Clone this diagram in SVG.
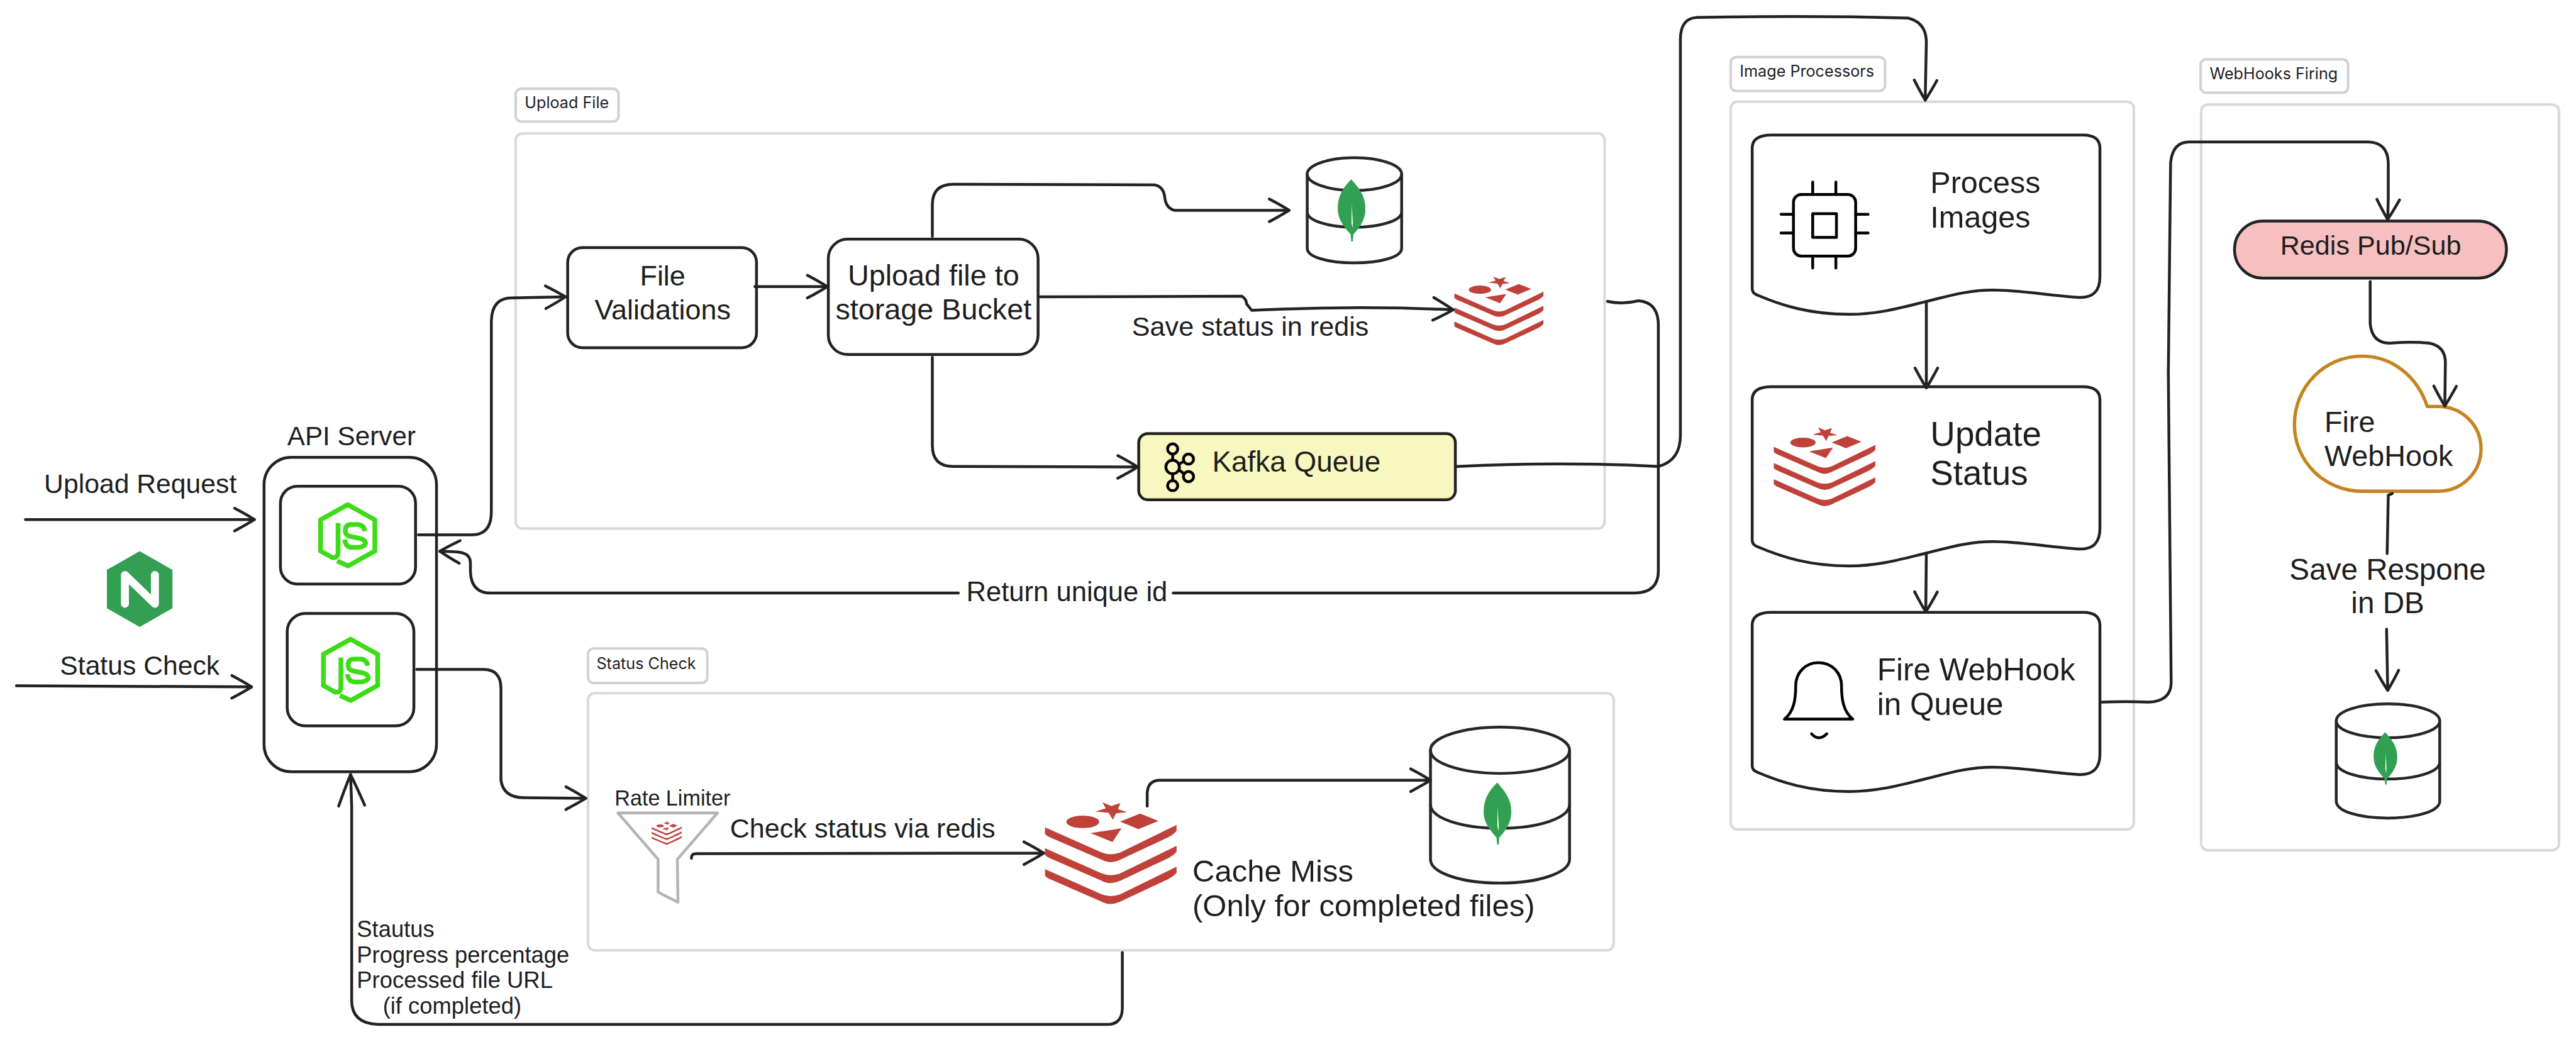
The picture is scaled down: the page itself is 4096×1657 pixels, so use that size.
<svg xmlns="http://www.w3.org/2000/svg" xmlns:xlink="http://www.w3.org/1999/xlink" width="4096" height="1657" viewBox="0 0 4096 1657">
<style>
text{font-family:"Liberation Sans",Arial,sans-serif;fill:#1e1e1e}
.lbl{font-family:Inter,"Liberation Sans",sans-serif;font-size:28px}
.grp{fill:#fff;stroke:#d8d8de;stroke-width:4.5}
.tag{fill:#fff;stroke:#d2d2d2;stroke-width:4.5}
.box{fill:#fff;stroke:#222;stroke-width:5}
.ln{fill:none;stroke:#222;stroke-width:5;stroke-linecap:round;stroke-linejoin:round}
.db{fill:#fff;stroke:#262626;stroke-width:5;stroke-linejoin:round}
.ic{fill:none;stroke:#000;stroke-width:5;stroke-linecap:round;stroke-linejoin:round}
.a{marker-end:url(#arr)}
.a2{marker-end:url(#arrBig)}
</style>
<defs>
<marker id="arr" markerUnits="userSpaceOnUse" viewBox="-60 -40 80 80" markerWidth="80" markerHeight="80" refX="0" refY="0" orient="auto" overflow="visible"><path d="M-35 -20Q-14 -9 0 0Q-14 9 -35 20" fill="none" stroke="#222" stroke-width="5" stroke-linecap="round" stroke-linejoin="round"/></marker>
<marker id="arrBig" markerUnits="userSpaceOnUse" viewBox="-70 -40 100 80" markerWidth="100" markerHeight="80" refX="0" refY="0" orient="auto" overflow="visible"><path d="M-55 -23Q-22 -10 0 0Q-22 10 -55 23" fill="none" stroke="#222" stroke-width="5" stroke-linecap="round" stroke-linejoin="round"/></marker>
<symbol id="redis" viewBox="145 507 698 543" preserveAspectRatio="none">
<g fill="#bf413a"><path d="M450 507L497 527L546 511L532 543L581 560L522 566L505 600L483 563L412 556L468 540Z"/><ellipse cx="346" cy="611" rx="87" ry="33"/><path d="M650 567L747 606L641 650L543 610Z"/><path d="M387 671L552 645L503 718Z"/>
<path d="M145 640L445 773Q495 793 545 773L843 627V660Q825 680 800 692L545 812Q495 838 445 812L170 692Q145 680 145 672Z"/><path d="M145 751L445 884Q495 904 545 884L843 738V771Q825 791 800 803L545 923Q495 949 445 923L170 803Q145 791 145 783Z"/><path d="M145 862L445 995Q495 1015 545 995L843 849V882Q825 902 800 914L545 1034Q495 1060 445 1034L170 914Q145 902 145 894Z"/></g>
</symbol>
<symbol id="leaf" viewBox="433 402 147 331" preserveAspectRatio="none">
<path d="M505 402C470 440 433 480 433 560C433 620 475 665 501 695L505 733H513L516 695C545 665 580 620 580 560C580 480 535 440 505 402Z" fill="#31a052"/><path d="M507 532L513 632L512 662L506 636Z" fill="#fff"/>
</symbol>
<symbol id="node" viewBox="305 138 322 362" preserveAspectRatio="none">
<g fill="none" stroke="#3cdc16" stroke-width="25"><path d="M410 456L468 482L609 403V238L466 158L323 238V403L385 438Q415 442 415 410V255"/><path d="M556 298Q550 263 515 263H482Q453 266 453 295Q453 320 480 326L530 336Q560 345 560 362Q555 382 520 384H485Q455 382 450 343"/></g>
</symbol>
<path id="card" d="M3133 239H3684Q3714 239 3714 262V490Q3714 528 3676 526C3620 522 3570 513 3525 513C3480 513 3445 524 3408 533C3360 545 3320 556 3270 556C3200 556 3150 540 3106 521Q3099 518 3099 510V262Q3099 239 3133 239Z"/>
</defs>
<rect width="4096" height="1657" fill="#fff"/>
<g transform="scale(0.89903)">
<g id="group-upload-file"><rect class="tag" x="912" y="157" width="182" height="58" rx="10"/><text class="lbl" x="928" y="191">Upload File</text><rect class="grp" x="912" y="236" width="1926" height="699" rx="12"/></g>
<g id="group-status-check"><rect class="tag" x="1040" y="1147" width="211" height="61" rx="10"/><text class="lbl" x="1055" y="1184">Status Check</text><rect class="grp" x="1040" y="1226" width="1814" height="455" rx="12"/></g>
<g id="group-image-processors"><rect class="tag" x="3061" y="101" width="273" height="60" rx="10"/><text class="lbl" x="3077" y="136">Image Processors</text><rect class="grp" x="3061" y="180" width="713" height="1287" rx="12"/></g>
<g id="group-webhooks-firing"><rect class="tag" x="3892" y="105" width="261" height="59" rx="10"/><text class="lbl" x="3908" y="140">WebHooks Firing</text><rect class="grp" x="3893" y="185" width="633" height="1319" rx="12"/></g>

<g id="nginx"><path d="M247 975L305 1008V1076L247 1109L189 1076V1008Z" fill="#339f53"/><path d="M221 1068V1017L274 1068V1017" fill="none" stroke="#fff" stroke-width="14" stroke-linecap="round" stroke-linejoin="round"/></g>
<g id="api-server"><rect class="box" x="467" y="809" width="305" height="556" rx="48"/><rect class="box" x="496" y="860" width="239" height="173" rx="30"/><use href="#node" x="561" y="886" width="108" height="121"/><rect class="box" x="508" y="1085" width="224" height="199" rx="32"/><use href="#node" x="566" y="1124" width="108" height="121"/><text x="508" y="788" font-size="47">API Server</text></g>
<text id="label-upload-request" x="78" y="872" font-size="47.5">Upload Request</text>
<text id="label-status-check" x="106" y="1193" font-size="47.5">Status Check</text>

<g id="file-validations"><rect class="box" x="1004" y="438" width="334" height="177" rx="26"/><text x="1172" y="505" font-size="50" text-anchor="middle">File</text><text x="1172" y="565" font-size="50" text-anchor="middle">Validations</text></g>
<g id="upload-to-bucket"><rect class="box" x="1465" y="423" width="371" height="204" rx="34"/><text x="1651" y="505" font-size="52" text-anchor="middle">Upload file to</text><text x="1651" y="565" font-size="52" text-anchor="middle">storage Bucket</text></g>
<g id="mongo-upload"><path class="db" d="M2312 308C2312 292 2350 279 2395 279C2441 279 2479 292 2479 308V439C2479 455 2441 465 2395 465C2350 465 2312 455 2312 439Z"/><path class="db" style="fill:none" d="M2312 308C2312 324 2350 337 2395 337C2441 337 2479 324 2479 308M2312 375C2312 390 2350 402 2395 402C2441 402 2479 390 2479 375"/><use href="#leaf" x="2366" y="317" width="49" height="110"/></g>
<g id="redis-upload"><use href="#redis" x="2572" y="489" width="158" height="122"/></g>
<text id="label-save-status" x="2002" y="594" font-size="48">Save status in redis</text>
<g id="kafka-queue"><rect class="box" style="fill:#f7f7bf" x="2014" y="767" width="560" height="117" rx="16"/><g class="ic"><circle cx="2074" cy="794" r="9"/><circle cx="2074" cy="826" r="12"/><circle cx="2074" cy="859" r="9"/><circle cx="2102" cy="812" r="9"/><circle cx="2102" cy="843" r="9"/><path d="M2074 803V814M2074 838V850M2085 821L2094 816M2085 831L2094 838"/></g><text x="2144" y="834" font-size="51">Kafka Queue</text></g>

<g id="rate-limiter"><path d="M1093 1438H1269L1198 1520L1199 1596L1164 1578V1520Z" fill="#fff" stroke="#b8b3b3" stroke-width="5" stroke-linejoin="round"/><use href="#redis" x="1152" y="1453" width="54" height="41"/><text x="1087" y="1425" font-size="38">Rate Limiter</text></g>
<text id="label-check-status" x="1291" y="1482" font-size="48">Check status via redis</text>
<g id="redis-cache"><use href="#redis" x="1848" y="1419" width="233" height="181"/></g>
<g id="mongo-status"><path class="db" d="M2530 1327C2530 1305 2585 1286 2653 1286C2721 1286 2776 1305 2776 1327V1520C2776 1544 2721 1562 2653 1562C2585 1562 2530 1544 2530 1520Z"/><path class="db" style="fill:none" d="M2530 1327C2530 1350 2585 1368 2653 1368C2721 1368 2776 1350 2776 1327M2530 1423C2530 1447 2585 1465 2653 1465C2721 1465 2776 1447 2776 1423"/><use href="#leaf" x="2624" y="1384" width="49" height="110"/></g>
<text id="label-cache-miss" font-size="54.5"><tspan x="2109" y="1560">Cache Miss</tspan><tspan x="2109" y="1621">(Only for completed files)</tspan></text>
<text id="label-response" font-size="40.5"><tspan x="631" y="1657">Stautus</tspan><tspan x="631" y="1703">Progress percentage</tspan><tspan x="631" y="1748">Processed file URL</tspan><tspan x="677" y="1793">(if completed)</tspan></text>

<g id="process-images"><use href="#card" class="box"/><g class="ic"><rect x="3172" y="344" width="110" height="109" rx="14"/><rect x="3206" y="378" width="42" height="42"/><path d="M3206 322V344M3247 322V344M3206 453V474M3247 453V474M3150 379H3172M3150 412H3172M3282 379H3304M3282 412H3304"/></g><text x="3414" y="342" font-size="54">Process</text><text x="3414" y="403" font-size="54">Images</text></g>
<g id="update-status"><use href="#card" class="box" y="445"/><use href="#redis" x="3137" y="756" width="180" height="140"/><text x="3414" y="789" font-size="61">Update</text><text x="3414" y="858" font-size="61">Status</text></g>
<g id="fire-webhook-queue"><use href="#card" class="box" y="844"/><g class="ic"><path d="M3156 1272H3277C3260 1259 3257 1236 3257 1213C3257 1190 3240 1172 3216 1172C3193 1172 3176 1190 3176 1213C3176 1236 3173 1259 3156 1272Z"/><path d="M3204 1298Q3217 1312 3231 1298"/></g><text x="3320" y="1204" font-size="55">Fire WebHook</text><text x="3320" y="1265" font-size="55">in Queue</text></g>

<g id="redis-pubsub"><rect class="box" style="fill:#f8bfc1" x="3952" y="391" width="481" height="101" rx="50"/><text x="4193" y="451" font-size="48" text-anchor="middle">Redis Pub/Sub</text></g>
<g id="fire-webhook-cloud"><path d="M4293 719C4275 665 4230 630 4178 630C4110 630 4058 685 4058 751C4058 815 4110 869 4178 869H4311C4355 869 4388 835 4388 794C4388 752 4355 719 4311 719Z" fill="#fff" stroke="#c68420" stroke-width="6" stroke-linejoin="round"/><text x="4111" y="764" font-size="52">Fire</text><text x="4111" y="824" font-size="52">WebHook</text></g>
<text id="label-save-response" font-size="53" text-anchor="middle"><tspan x="4223" y="1026">Save Respone</tspan><tspan x="4223" y="1085">in DB</tspan></text>
<g id="mongo-webhook"><path class="db" d="M4132 1275C4132 1258 4172 1245 4223 1245C4274 1245 4315 1258 4315 1275V1417C4315 1435 4274 1447 4223 1447C4172 1447 4132 1435 4132 1417Z"/><path class="db" style="fill:none" d="M4132 1275C4132 1292 4172 1305 4223 1305C4274 1305 4315 1292 4315 1275M4132 1348C4132 1365 4172 1378 4223 1378C4274 1378 4315 1365 4315 1348"/><use href="#leaf" x="4198" y="1295" width="42" height="93"/></g>
<text id="label-return-id" x="1709" y="1063" font-size="48.5">Return unique id</text>

<g id="connectors" class="ln">
<path class="a" d="M45 919H450"/>
<path class="a" d="M29 1213L445 1215"/>
<path class="a" d="M740 946H835Q869 946 869 905V570Q869 527 905 527L1000 525"/>
<path class="a" d="M1335 507H1463"/>
<path class="a" d="M1649 418V362Q1649 326 1686 326L2042 327Q2058 330 2060 349Q2062 368 2077 372L2280 372"/>
<path class="a" d="M1840 525L2196 524Q2204 528 2205 538L2214 549Q2400 540 2570 548"/>
<path class="a" d="M1649 632V788Q1649 825 1686 825L2012 826"/>
<path class="a" d="M2577 825Q2760 816 2933 825Q2972 815 2972 770V70Q2972 33 3000 31Q3200 27 3375 32Q3407 40 3407 75L3405 177"/>
<path class="a" d="M2843 533Q2870 539 2898 532Q2933 535 2933 575V1010Q2933 1048 2892 1049H2075M1695 1049H868Q832 1049 832 1008V995Q832 977 805 976L778 975"/>
<path class="a" d="M737 1184H855Q886 1184 886 1218V1380Q890 1410 925 1411L1036 1412"/>
<path class="a" d="M1223 1518Q1222 1510 1232 1510L1846 1509"/>
<path class="a" d="M2029 1426V1403Q2030 1381 2050 1380L2530 1380"/>
<path class="a2" d="M1985 1685V1785Q1984 1812 1958 1812H668Q622 1810 622 1770V1426L620 1370"/>
<path class="a" d="M3407 533V686"/>
<path class="a" d="M3407 980L3406 1082"/>
<path class="a" d="M3717 1242Q3760 1240 3800 1242Q3840 1240 3840 1207L3835 660L3839 289Q3842 251 3872 251H4190Q4224 253 4224 290V350L4223 388"/>
<path class="a" d="M4192 498V572Q4195 607 4227 607Q4262 604 4297 607Q4325 613 4325 641L4324 718"/>
<path class="a" d="M4231 873L4224 876L4222 979M4221 1113L4223 1221"/>
</g>
</g>
</svg>
